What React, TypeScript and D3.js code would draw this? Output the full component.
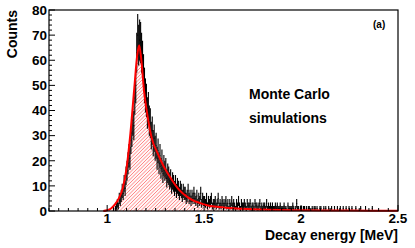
import * as d3 from "d3";

// histogram: bins of 0.005 MeV starting at 1.000
const binStart = 1.0;
const binWidth = 0.005;
const counts = [
  0, 0, 0, 0, 0, 0, 1, 0, 1, 2,
  3, 2, 5, 4, 6, 8, 7, 11, 9, 14,
  16, 19, 22, 21, 28, 31, 36, 34, 45, 50,
  63, 70, 66, 68, 67, 63, 60, 55, 50, 46,
  44, 39, 41, 36, 35, 30, 32, 27, 29, 25,
  26, 21, 24, 19, 22, 17, 20, 15, 18, 16,
  17, 13, 15, 14, 12, 13, 10, 12, 11, 9,
  11, 8, 10, 9, 7, 9, 8, 6, 8, 7,
  7, 5, 6, 8, 5, 6, 4, 6, 5, 7,
  5, 4, 6, 3, 5, 4, 7, 3, 5, 4,
  4, 3, 5, 2, 4, 3, 4, 5, 2, 3,
  3, 4, 2, 3, 5, 2, 3, 2, 4, 3,
  2, 3, 4, 2, 3, 1, 3, 2, 4, 2,
  3, 2, 1, 3, 2, 4, 2, 1, 3, 2,
  2, 3, 2, 1, 3, 2, 2, 3, 1, 2,
  2, 1, 3, 2, 2, 1, 2, 3, 1, 2,
  1, 2, 2, 1, 3, 1, 2, 1, 2, 1,
  2, 1, 1, 2, 1, 2, 1, 1, 2, 1,
  1, 1, 2, 1, 1, 0, 2, 1, 1, 1,
  1, 2, 1, 0, 1, 3, 1, 1, 0, 1,
  1, 0, 1, 1, 0, 1, 0, 1, 1, 0,
  0, 1, 0, 1, 1, 0, 1, 0, 0, 1,
  1, 0, 0, 1, 0, 1, 0, 0, 1, 0,
  0, 1, 0, 0, 1, 0, 0, 1, 0, 0,
  1, 0, 0, 1, 0, 0, 1, 0, 0, 1,
  0, 0, 1, 0, 0, 0, 1, 0, 0, 0,
  0, 1, 0, 0, 0, 0, 1, 0, 0, 0,
  0, 0, 0, 1, 0, 0, 0, 0, 0, 0,
];

// fitted curve
const fitE = [0.98, 1.0, 1.02, 1.04, 1.06, 1.08, 1.1, 1.12, 1.14, 1.155, 1.165, 1.175, 1.19, 1.21, 1.23, 1.26, 1.29, 1.32, 1.37, 1.42, 1.5, 1.6, 1.75, 2.0, 2.25, 2.5];
const fitN = [0, 0.3, 1, 2.6, 5, 9, 17, 31, 49, 62, 66, 61, 48, 37, 29, 23, 18, 14, 8.5, 5.2, 2.6, 1.4, 0.7, 0.3, 0.15, 0.1];

const xMajor = [1, 1.5, 2, 2.5];
const yMajor = [0, 10, 20, 30, 40, 50, 60, 70, 80];

const W = 415;
const H = 248;
const m = { left: 49, right: 17, top: 10, bottom: 37 };
const font = "'Liberation Sans', Arial, Helvetica, sans-serif";

export default function App() {
  const x = d3.scaleLinear().domain([0.7, 2.5]).range([m.left, W - m.right]);
  const y = d3.scaleLinear().domain([0, 80]).range([H - m.bottom, m.top]);
  const y0 = y(0);

  const fit = fitE.map((e, i) => [e, fitN[i]] as [number, number]);
  const line = d3
    .line<[number, number]>()
    .x((d) => x(d[0]))
    .y((d) => y(d[1]))
    .curve(d3.curveMonotoneX);
  const area = d3
    .area<[number, number]>()
    .x((d) => x(d[0]))
    .y0(y0)
    .y1((d) => y(d[1]))
    .curve(d3.curveMonotoneX);

  const bins = counts
    .map((n, i) => ({ e: binStart + (i + 0.5) * binWidth, n }))
    .filter((b) => b.n > 0);

  const xMinor = d3.range(0.7, 2.5001, 0.05).map((v) => Math.round(v * 100) / 100);
  const yMinor = d3.range(0, 81, 2);

  // diagonal hatch lines "/" clipped to the area under the fit
  const hatchStep = 3.5;
  const hatch = d3.range(m.left - 220, W, hatchStep);

  return (
    <svg
      width={W}
      height={H}
      style={{ position: "absolute", left: 0, top: 0, background: "#fff" }}
      fontFamily={font}
    >
      <defs>
        <clipPath id="fitClip">
          <path d={area(fit) || ""} />
        </clipPath>
      </defs>
      <rect width={W} height={H} fill="#fff" />

      {/* hatched area under the fit */}
      <g clipPath="url(#fitClip)">
        <path d={area(fit) || ""} fill="#fff6f6" />
        {hatch.map((h) => (
          <line
            key={h}
            x1={h}
            y1={y0}
            x2={h + (y0 - m.top)}
            y2={m.top}
            style={{ stroke: "rgb(255,125,125)", strokeWidth: 0.9 }}
          />
        ))}
      </g>

      {/* histogram error bars */}
      <g stroke="#000" strokeWidth={1.1}>
        {bins.map((b, i) => {
          const err = Math.sqrt(b.n);
          return (
            <g key={i}>
              <line x1={x(b.e)} x2={x(b.e)} y1={y(Math.max(0, b.n - err))} y2={y(b.n + err)} />
              <line
                x1={x(b.e - binWidth / 2)}
                x2={x(b.e + binWidth / 2)}
                y1={y(b.n)}
                y2={y(b.n)}
              />
            </g>
          );
        })}
      </g>

      {/* fit curve */}
      <path d={line(fit) || ""} fill="none" stroke="#ff0000" strokeWidth={2} />

      {/* frame */}
      <rect
        x={m.left}
        y={m.top}
        width={W - m.left - m.right}
        height={H - m.top - m.bottom}
        fill="none"
        stroke="#000"
        strokeWidth={1.2}
      />

      {/* ticks */}
      <g stroke="#000" strokeWidth={1}>
        {yMinor.map((v) => (
          <line key={"ym" + v} x1={m.left} x2={m.left + (v % 10 === 0 ? 6 : 3)} y1={y(v)} y2={y(v)} />
        ))}
        {xMinor.map((v) => {
          const major = xMajor.some((t) => Math.abs(t - v) < 1e-6);
          return <line key={"xm" + v} x1={x(v)} x2={x(v)} y1={y0} y2={y0 - (major ? 6 : 3)} />;
        })}
      </g>

      <g fontSize={13.5} fontWeight="bold" fill="#000">
        {yMajor.map((v) => (
          <text key={"yl" + v} x={m.left - 2} y={y(v)} dy="0.36em" textAnchor="end">
            {v}
          </text>
        ))}
        {xMajor.map((v) => (
          <text key={"xl" + v} x={x(v)} y={y0 + 12} textAnchor="middle">
            {v}
          </text>
        ))}
      </g>

      <text
        transform={`translate(16.5, ${m.top}) rotate(-90)`}
        textAnchor="end"
        fontSize={14}
        fontWeight="bold"
      >
        Counts
      </text>
      <text x={W - m.right} y={240} textAnchor="end" fontSize={14} fontWeight="bold">
        Decay energy [MeV]
      </text>
      <text x={373} y={28} fontSize={10} fontWeight="bold">
        (a)
      </text>
      <text x={249} y={99} fontSize={14} fontWeight="bold">
        Monte Carlo
      </text>
      <text x={249} y={123} fontSize={14} fontWeight="bold">
        simulations
      </text>
    </svg>
  );
}
